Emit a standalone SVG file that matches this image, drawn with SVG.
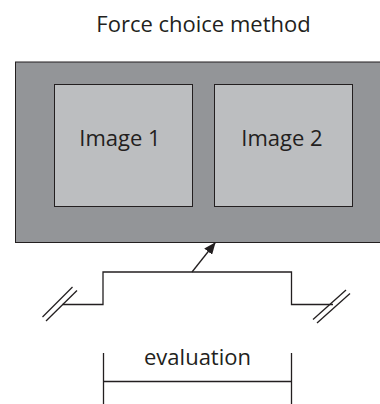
<svg xmlns="http://www.w3.org/2000/svg" width="380" height="404" viewBox="0 0 380 404">
<defs>
<style>
text{font-family:"Open Sans","Liberation Sans",sans-serif;font-size:22px;fill:#231f20;text-anchor:middle}
.ln{fill:none;stroke:#231f20;stroke-width:1.3}
.outer{fill:#939598;stroke:#231f20;stroke-width:1}
.inner{fill:#bcbec0;stroke:#231f20;stroke-width:1}
</style>
<marker id="ah" markerWidth="12" markerHeight="10" refX="11" refY="5" orient="auto" markerUnits="userSpaceOnUse" viewBox="0 0 12 10">
<path d="M0,0 L12,5 L0,10 Z" fill="#231f20"/>
</marker>
</defs>
<rect width="380" height="404" fill="#ffffff"/>
<text id="title" x="203.5" y="32">Force choice method</text>
<g id="screen">
<rect class="outer" x="15.5" y="62" width="370" height="180.5"/>
</g>
<g id="image1">
<rect class="inner" x="54.5" y="84.5" width="138" height="122"/>
<text x="120" y="146">Image 1</text>
</g>
<g id="image2">
<rect class="inner" x="214.5" y="84.5" width="138" height="122"/>
<text x="282" y="146">Image 2</text>
</g>
<g id="connectors">
<polyline class="ln" points="62.5,304.5 103,304.5 103,272 291.5,272 291.5,304.5 333,304.5"/>
<line class="ln" x1="42.5" y1="317" x2="72.5" y2="287"/>
<line class="ln" x1="46" y1="321" x2="77" y2="290.5"/>
<line class="ln" x1="313" y1="319.5" x2="346" y2="290"/>
<line class="ln" x1="317" y1="323" x2="350" y2="293.5"/>
<line class="ln" x1="192" y1="272" x2="215" y2="243" marker-end="url(#ah)"/>
<polyline class="ln" points="103.5,353 103.5,404"/>
<polyline class="ln" points="291.5,353 291.5,404"/>
<line class="ln" x1="103.5" y1="381.5" x2="291.5" y2="381.5"/>
</g>
<g id="evaluation">
<text x="197.5" y="365">evaluation</text>
</g>
</svg>
